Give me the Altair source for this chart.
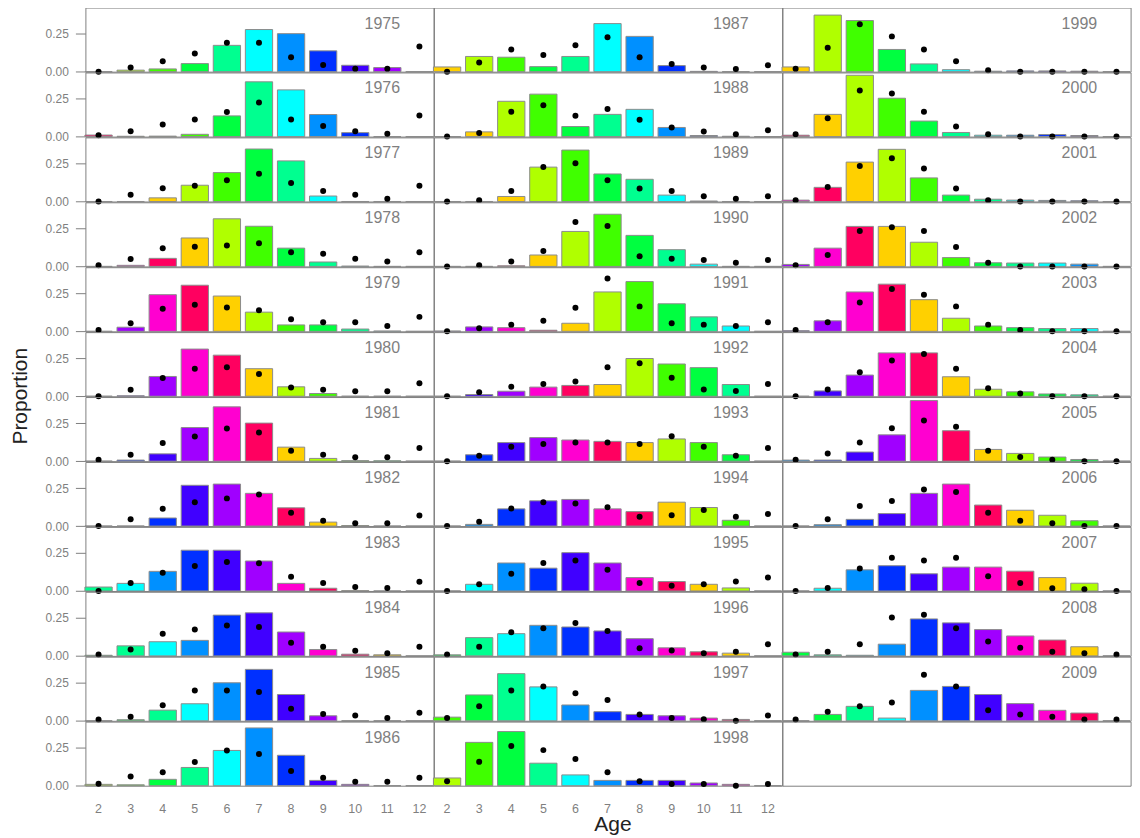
import altair as alt
import pandas as pd

years = list(range(1975, 2010))
ages = list(range(2, 13))

obs_1975 = [0.0, 0.01, 0.018, 0.053, 0.173, 0.277, 0.25, 0.137, 0.042, 0.027, 0.0]
exp_1975 = [0.0, 0.027, 0.069, 0.12, 0.19, 0.19, 0.095, 0.044, 0.02, 0.02, 0.166]
obs_1976 = [0.01, 0.002, 0.003, 0.015, 0.136, 0.36, 0.307, 0.145, 0.026, 0.0, 0.0]
exp_1976 = [0.009, 0.035, 0.079, 0.112, 0.162, 0.224, 0.112, 0.07, 0.035, 0.018, 0.138]
obs_1977 = [0.0, 0.0, 0.024, 0.107, 0.19, 0.345, 0.267, 0.036, 0.0, 0.0, 0.0]
exp_1977 = [0.0, 0.044, 0.087, 0.104, 0.14, 0.182, 0.122, 0.069, 0.044, 0.018, 0.104]
obs_1978 = [0.0, 0.007, 0.053, 0.187, 0.313, 0.264, 0.12, 0.029, 0.002, 0.0, 0.0]
exp_1978 = [0.007, 0.049, 0.12, 0.129, 0.138, 0.153, 0.093, 0.084, 0.051, 0.033, 0.093]
obs_1979 = [0.0, 0.027, 0.241, 0.303, 0.232, 0.126, 0.042, 0.042, 0.015, 0.002, 0.0]
exp_1979 = [0.009, 0.053, 0.148, 0.175, 0.157, 0.139, 0.08, 0.06, 0.06, 0.035, 0.095]
obs_1980 = [0.0, 0.003, 0.13, 0.31, 0.27, 0.181, 0.062, 0.018, 0.0, 0.0, 0.0]
exp_1980 = [0.0, 0.042, 0.12, 0.181, 0.19, 0.146, 0.058, 0.042, 0.033, 0.033, 0.086]
obs_1981 = [0.0, 0.007, 0.048, 0.221, 0.357, 0.25, 0.092, 0.018, 0.003, 0.002, 0.0]
exp_1981 = [0.009, 0.042, 0.12, 0.162, 0.215, 0.189, 0.068, 0.042, 0.026, 0.026, 0.086]
obs_1982 = [0.0, 0.0, 0.053, 0.268, 0.276, 0.215, 0.12, 0.026, 0.003, 0.0, 0.0]
exp_1982 = [0.0, 0.044, 0.114, 0.156, 0.182, 0.208, 0.088, 0.035, 0.018, 0.018, 0.07]
obs_1983 = [0.026, 0.05, 0.129, 0.268, 0.268, 0.197, 0.05, 0.018, 0.002, 0.0, 0.0]
exp_1983 = [0.0, 0.053, 0.12, 0.164, 0.19, 0.182, 0.094, 0.053, 0.026, 0.02, 0.061]
obs_1984 = [0.004, 0.066, 0.093, 0.102, 0.268, 0.283, 0.157, 0.042, 0.011, 0.007, 0.0]
exp_1984 = [0.009, 0.042, 0.146, 0.173, 0.2, 0.19, 0.086, 0.06, 0.033, 0.018, 0.06]
obs_1985 = [0.0, 0.007, 0.07, 0.112, 0.25, 0.338, 0.173, 0.033, 0.0, 0.0, 0.0]
exp_1985 = [0.009, 0.026, 0.103, 0.2, 0.2, 0.19, 0.079, 0.044, 0.035, 0.018, 0.053]
obs_1986 = [0.009, 0.006, 0.042, 0.12, 0.232, 0.38, 0.2, 0.035, 0.009, 0.0, 0.0]
exp_1986 = [0.013, 0.061, 0.088, 0.156, 0.232, 0.208, 0.096, 0.053, 0.026, 0.026, 0.053]
obs_1987 = [0.031, 0.1, 0.095, 0.033, 0.1, 0.316, 0.232, 0.04, 0.002, 0.0, 0.0]
exp_1987 = [0.0, 0.06, 0.146, 0.11, 0.173, 0.226, 0.095, 0.051, 0.027, 0.018, 0.042]
obs_1988 = [0.0, 0.031, 0.232, 0.279, 0.066, 0.146, 0.179, 0.06, 0.007, 0.002, 0.0]
exp_1988 = [0.0, 0.024, 0.164, 0.206, 0.137, 0.181, 0.111, 0.06, 0.033, 0.015, 0.042]
obs_1989 = [0.0, 0.0, 0.033, 0.226, 0.338, 0.181, 0.146, 0.042, 0.003, 0.0, 0.0]
exp_1989 = [0.0, 0.009, 0.069, 0.226, 0.252, 0.139, 0.086, 0.069, 0.035, 0.018, 0.035]
obs_1990 = [0.0, 0.0, 0.004, 0.075, 0.23, 0.343, 0.204, 0.11, 0.015, 0.0, 0.0]
exp_1990 = [0.0, 0.007, 0.033, 0.102, 0.292, 0.265, 0.066, 0.051, 0.042, 0.024, 0.042]
obs_1991 = [0.002, 0.029, 0.024, 0.007, 0.053, 0.259, 0.327, 0.181, 0.095, 0.035, 0.0]
exp_1991 = [0.0, 0.02, 0.044, 0.069, 0.155, 0.347, 0.164, 0.053, 0.044, 0.035, 0.06]
obs_1992 = [0.0, 0.011, 0.033, 0.06, 0.071, 0.077, 0.248, 0.212, 0.188, 0.077, 0.0]
exp_1992 = [0.0, 0.027, 0.062, 0.08, 0.097, 0.19, 0.217, 0.122, 0.044, 0.035, 0.08]
obs_1993 = [0.0, 0.042, 0.122, 0.155, 0.139, 0.13, 0.122, 0.146, 0.122, 0.042, 0.0]
exp_1993 = [0.0, 0.035, 0.095, 0.113, 0.122, 0.122, 0.113, 0.164, 0.095, 0.035, 0.086]
obs_1994 = [0.0, 0.011, 0.113, 0.166, 0.175, 0.113, 0.095, 0.157, 0.122, 0.038, 0.0]
exp_1994 = [0.0, 0.029, 0.115, 0.157, 0.148, 0.124, 0.062, 0.071, 0.106, 0.062, 0.08]
obs_1995 = [0.0, 0.044, 0.184, 0.15, 0.252, 0.184, 0.088, 0.062, 0.044, 0.02, 0.0]
exp_1995 = [0.0, 0.044, 0.113, 0.184, 0.201, 0.139, 0.053, 0.035, 0.044, 0.062, 0.088]
obs_1996 = [0.007, 0.12, 0.146, 0.201, 0.19, 0.164, 0.113, 0.053, 0.027, 0.018, 0.0]
exp_1996 = [0.009, 0.06, 0.155, 0.181, 0.217, 0.164, 0.051, 0.035, 0.018, 0.027, 0.077]
obs_1997 = [0.024, 0.17, 0.31, 0.223, 0.104, 0.06, 0.042, 0.033, 0.018, 0.009, 0.0]
exp_1997 = [0.018, 0.095, 0.2, 0.226, 0.181, 0.137, 0.042, 0.018, 0.011, 0.0, 0.035]
obs_1998 = [0.051, 0.285, 0.356, 0.148, 0.071, 0.035, 0.035, 0.035, 0.018, 0.009, 0.0]
exp_1998 = [0.029, 0.157, 0.261, 0.234, 0.175, 0.088, 0.029, 0.011, 0.011, 0.0, 0.011]
obs_1999 = [0.031, 0.372, 0.336, 0.146, 0.051, 0.013, 0.003, 0.005, 0.005, 0.003, 0.0]
exp_1999 = [0.02, 0.157, 0.312, 0.232, 0.146, 0.069, 0.009, 0.0, 0.0, 0.0, 0.0]
obs_2000 = [0.009, 0.146, 0.403, 0.252, 0.102, 0.027, 0.009, 0.009, 0.013, 0.007, 0.0]
exp_2000 = [0.015, 0.12, 0.303, 0.283, 0.164, 0.066, 0.015, 0.0, 0.0, 0.0, 0.0]
obs_2001 = [0.009, 0.093, 0.259, 0.343, 0.155, 0.042, 0.015, 0.009, 0.007, 0.005, 0.0]
exp_2001 = [0.009, 0.095, 0.234, 0.285, 0.217, 0.086, 0.009, 0.0, 0.0, 0.0, 0.0]
obs_2002 = [0.013, 0.12, 0.263, 0.263, 0.159, 0.058, 0.024, 0.022, 0.022, 0.015, 0.0]
exp_2002 = [0.007, 0.075, 0.232, 0.257, 0.232, 0.128, 0.024, 0.0, 0.0, 0.0, 0.0]
obs_2003 = [0.004, 0.069, 0.259, 0.31, 0.208, 0.086, 0.035, 0.024, 0.018, 0.018, 0.0]
exp_2003 = [0.009, 0.06, 0.19, 0.279, 0.241, 0.164, 0.044, 0.009, 0.0, 0.0, 0.0]
obs_2004 = [0.0, 0.035, 0.139, 0.285, 0.285, 0.128, 0.046, 0.029, 0.015, 0.009, 0.0]
exp_2004 = [0.0, 0.044, 0.157, 0.235, 0.277, 0.181, 0.053, 0.018, 0.0, 0.0, 0.0]
obs_2005 = [0.007, 0.007, 0.06, 0.173, 0.398, 0.2, 0.077, 0.051, 0.027, 0.011, 0.0]
exp_2005 = [0.009, 0.051, 0.122, 0.217, 0.268, 0.226, 0.069, 0.027, 0.009, 0.0, 0.0]
obs_2006 = [0.0, 0.009, 0.044, 0.082, 0.215, 0.276, 0.138, 0.104, 0.071, 0.035, 0.0]
exp_2006 = [0.0, 0.044, 0.132, 0.164, 0.241, 0.224, 0.088, 0.035, 0.018, 0.0, 0.0]
obs_2007 = [0.0, 0.018, 0.139, 0.166, 0.113, 0.157, 0.157, 0.13, 0.088, 0.051, 0.0]
exp_2007 = [0.0, 0.02, 0.148, 0.219, 0.201, 0.219, 0.097, 0.053, 0.018, 0.011, 0.0]
obs_2008 = [0.024, 0.007, 0.004, 0.077, 0.243, 0.217, 0.173, 0.131, 0.104, 0.06, 0.0]
exp_2008 = [0.009, 0.027, 0.077, 0.252, 0.27, 0.181, 0.095, 0.053, 0.027, 0.018, 0.009]
obs_2009 = [0.0, 0.042, 0.095, 0.018, 0.2, 0.226, 0.173, 0.113, 0.069, 0.051, 0.0]
exp_2009 = [0.009, 0.06, 0.095, 0.12, 0.303, 0.226, 0.069, 0.042, 0.027, 0.009, 0.009]

# colour of each bar follows its cohort (year - age), repeating every 12 cohorts
cohort_colors = ["#A000FF", "#4000FF", "#0030FF", "#0090FF", "#00FFFF", "#00FF90",
                 "#00FF40", "#40FF00", "#B0FF00", "#FFD000", "#FF0060", "#FF00D0"]

x_title = "Age"
y_title = "Proportion"

records = []
for yr in years:
    o_vals = globals()[f"obs_{yr}"]
    e_vals = globals()[f"exp_{yr}"]
    for a, ov, ev in zip(ages, o_vals, e_vals):
        records.append({
            "year": str(yr), "age": a, "obs": ov, "exp": ev,
            "prow": (yr - 1975) % 12, "pcol": (yr - 1975) // 12,
            "color": cohort_colors[(yr - a - 1964) % 12],
        })
df = pd.DataFrame(records)

W, H = 348.6, 64.2
FONT = "Liberation Sans"
GRAY = "#7f7f7f"

x_scale = alt.Scale(domain=[1.59, 12.44], nice=False, zero=False)
y_scale = alt.Scale(domain=[0, 0.4215], nice=False)
y_axis = alt.Axis(values=[0, 0.25], format=".2f", title=None, grid=False, domain=False,
                  tickSize=10, tickColor=GRAY, labelColor=GRAY, labelFontSize=12,
                  labelPadding=7, labelFont=FONT)

bars = alt.Chart().transform_calculate(
    xa="datum.age - 0.425", xb="datum.age + 0.425"
).mark_bar(stroke="#8c8c8c", strokeWidth=1).encode(
    x=alt.X("xa:Q", scale=x_scale, axis=None),
    x2="xb:Q",
    y=alt.Y("obs:Q", scale=y_scale, axis=y_axis),
    y2=alt.datum(0),
    color=alt.Color("color:N", scale=None),
)

points = alt.Chart().mark_circle(size=36, color="black", opacity=1).encode(
    x=alt.X("age:Q", scale=x_scale, axis=None),
    y=alt.Y("exp:Q", scale=y_scale, axis=y_axis),
)

year_labels = alt.Chart().transform_filter("datum.age == 12").mark_text(
    align="right", baseline="alphabetic", fontSize=16, font=FONT, color=GRAY
).encode(x=alt.value(W - 33.5), y=alt.value(21), text="year:N")

tick_labels = alt.Chart().transform_filter("datum.prow == 11").mark_text(
    align="center", baseline="middle", fontSize=12.5, font=FONT, color=GRAY
).encode(
    x=alt.X("age:Q", scale=x_scale, axis=None),
    y=alt.value(H + 23.5),
    text="age:N",
)

y_title_mark = alt.Chart().transform_filter(
    "datum.year == '1980' && datum.age == 12"
).mark_text(
    align="center", baseline="middle", angle=270, fontSize=21, font=FONT, color="#222222"
).encode(x=alt.value(-64.5), y=alt.value(H), text=alt.value(y_title))

x_title_mark = alt.Chart().transform_filter(
    "datum.year == '1998' && datum.age == 12"
).mark_text(
    align="center", baseline="alphabetic", fontSize=21, font=FONT, color="#222222"
).encode(x=alt.value(W / 2 + 5), y=alt.value(H + 45.5), text=alt.value(x_title))

panel = alt.layer(bars, points, year_labels, tick_labels, y_title_mark, x_title_mark).properties(
    width=W, height=H)

chart = panel.facet(
    row=alt.Row("prow:O", header=None),
    column=alt.Column("pcol:O", header=None),
    data=df,
    spacing=0,
    bounds="flush",
).properties(
    padding={"left": 0.5, "top": -2, "right": 0, "bottom": 0}
).configure_view(stroke=GRAY, strokeWidth=1)

chart.save("out.html", embed_options={"renderer": "svg", "actions": False})
